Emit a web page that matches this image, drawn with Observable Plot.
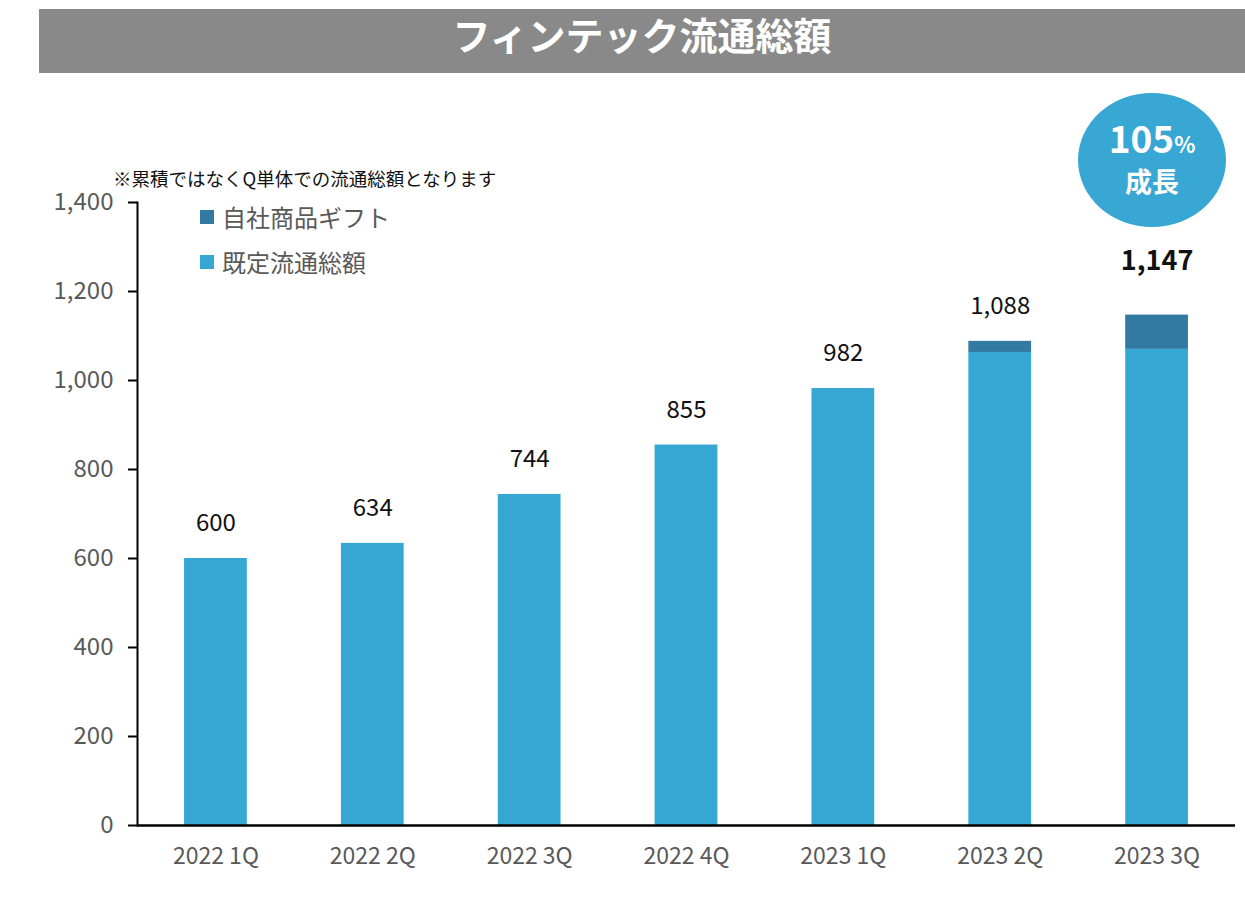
<!DOCTYPE html>
<html>
<head>
<meta charset="utf-8">
<script src="https://cdn.jsdelivr.net/npm/d3@7"></script>
<script src="https://cdn.jsdelivr.net/npm/@observablehq/plot@0.6"></script>
<style>
  html, body { margin: 0; padding: 0; background: #fff; }
  body { font-family: "Noto Sans CJK JP", "Noto Sans", sans-serif; }
  #wrap { position: relative; width: 1245px; height: 921px; overflow: hidden; }
  #chart { position: absolute; left: 0; top: 0; }
  .title { position: absolute; left: 39px; top: 9px; width: 1206px; height: 64px; background: #898989;
           color: #fff; font-weight: 700; font-size: 38px; line-height: 50px; text-align: center; }
  .note { position: absolute; left: 113px; top: 165px; font-size: 18.5px; color: #111; line-height: 26px; white-space: nowrap; }
  .legend { position: absolute; left: 200px; top: 194px; font-size: 24px; color: #595959; }
  .legend .row { display: flex; align-items: center; height: 45px; }
  .legend .sw { width: 14px; height: 14px; margin-right: 8px; }
  .bubble { position: absolute; left: 1078px; top: 93px; width: 148px; height: 134px; border-radius: 50%;
            background: #38a7d4; color: #fff; text-align: center; font-weight: 700; }
  .bubble .big { position: absolute; left: 0; right: 0; top: 22px; font-size: 37px; line-height: 44px; }
  .bubble .big span { font-size: 22px; }
  .bubble .small { position: absolute; left: 0; right: 0; top: 70px; font-size: 27px; line-height: 36px; }
</style>
</head>
<body>
<div id="wrap">
  <div id="chart"></div>
  <div class="title">フィンテック流通総額</div>
  <div class="note">※累積ではなくQ単体での流通総額となります</div>
  <div class="legend" id="legend"></div>
  <div class="bubble"><div class="big">105<span>%</span></div><div class="small">成長</div></div>
</div>
<script>
const quarters = ["2022 1Q", "2022 2Q", "2022 3Q", "2022 4Q", "2023 1Q", "2023 2Q", "2023 3Q"];
const baseValues = [600, 634, 744, 855, 982, 1063, 1070];
const giftValues = [0, 0, 0, 0, 0, 25, 77];
const totals = [600, 634, 744, 855, 982, 1088, 1147];
const seriesNames = ["既定流通総額", "自社商品ギフト"];
const seriesColors = ["#36a7d3", "#327aa1"];
const yTicks = [0, 200, 400, 600, 800, 1000, 1200, 1400];
const legendOrder = ["自社商品ギフト", "既定流通総額"];

const rows = [];
quarters.forEach((q, i) => {
  rows.push({quarter: q, series: seriesNames[0], value: baseValues[i]});
  rows.push({quarter: q, series: seriesNames[1], value: giftValues[i]});
});
const totalRows = quarters.map((q, i) => ({quarter: q, total: totals[i], last: i === quarters.length - 1}));
const fmt = d3.format(",");

const chart = Plot.plot({
  width: 1245,
  height: 921,
  marginLeft: 137,
  marginRight: 10,
  marginTop: 202,
  marginBottom: 96,
  style: {fontFamily: "'Noto Sans CJK JP', 'Noto Sans', sans-serif", background: "transparent"},
  x: {domain: quarters, paddingInner: 0.6, paddingOuter: 0.3, round: false, label: null},
  y: {domain: [0, 1400], label: null},
  color: {domain: seriesNames, range: seriesColors},
  marks: [
    Plot.barY(rows, {x: "quarter", y: "value", fill: "series", order: seriesNames}),
    Plot.axisY({ticks: yTicks, tickSize: 9, tickPadding: 15, tickFormat: d => fmt(d), stroke: "black", strokeWidth: 2,
                fill: "#595959", fontSize: 24, label: null}),
    Plot.axisX({tickSize: 0, tickPadding: 22, fill: "#595959", fontSize: 23, label: null}),
    Plot.ruleY([0], {stroke: "black", strokeWidth: 2.5}),
    Plot.frame({anchor: "left", stroke: "black", strokeWidth: 2}),
    Plot.text(totalRows.filter(d => !d.last), {x: "quarter", y: "total", text: d => fmt(d.total), dy: -35,
              fontSize: 24, fill: "#111"}),
    Plot.text(totalRows.filter(d => d.last), {x: "quarter", y: "total", text: d => fmt(d.total), dy: -54,
              fontSize: 27, fontWeight: 700, fill: "#111"})
  ]
});
document.getElementById("chart").appendChild(chart);

const legend = document.getElementById("legend");
legendOrder.forEach(name => {
  const row = document.createElement("div");
  row.className = "row";
  const sw = document.createElement("div");
  sw.className = "sw";
  sw.style.background = seriesColors[seriesNames.indexOf(name)];
  const label = document.createElement("span");
  label.textContent = name;
  row.appendChild(sw);
  row.appendChild(label);
  legend.appendChild(row);
});
</script>
</body>
</html>
